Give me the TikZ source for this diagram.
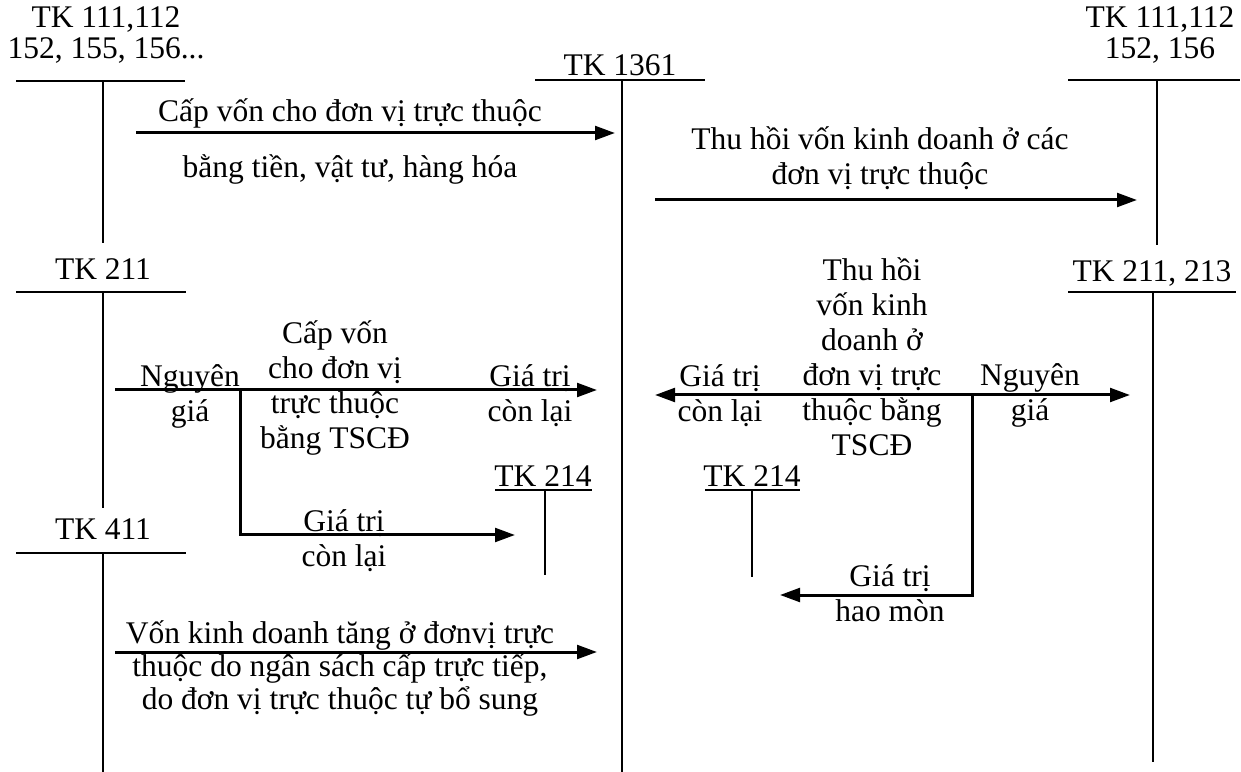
\documentclass[tikz,border=0pt]{standalone}
\usepackage{fontspec}
\setmainfont{Liberation Serif}
\usetikzlibrary{calc,arrows.meta}

\begin{document}
\begin{tikzpicture}[x=0.4pt,y=-0.4pt,inner sep=0pt,outer sep=0pt,
    every node/.style={font=\fontsize{12.6}{14}\selectfont, align=center},
    tline/.style={line width=0.8pt},
    arr/.style={line width=1.2pt,-{Triangle[length=8pt,width=5.5pt]}},
    darr/.style={line width=1.2pt,{Triangle[length=8pt,width=5.5pt]}-{Triangle[length=8pt,width=5.5pt]}}]
    \useasboundingbox (0,0) rectangle (1241,772);

    % TK 111,112 (left)
    \node[font=\fontsize{12.6}{12.6}\selectfont] (tk111l) at (106,35) {TK 111,112\\152, 155, 156...};
    \draw[tline] (16,81) -- (185,81);
    \draw[tline] (103,81) -- (103,243);

    % TK 1361
    \node (tk1361) at (620,65) {TK 1361};
    \draw[tline] (535,80) -- (705,80);
    \draw[tline] (622,80) -- (622,772);

    % TK 111,112 (right)
    \node[font=\fontsize{12.6}{12.6}\selectfont] (tk111r) at (1160,35) {TK 111,112\\152, 156};
    \draw[tline] (1068,80) -- (1240,80);
    \draw[tline] (1157,80) -- (1157,245);

    % cap von
    \coordinate (capvon_s) at (136,133);
    \coordinate (capvon_e) at (615,133);
    \draw[arr] (capvon_s) -- (capvon_e);
    \node (capvon_cap) at (350,113) {Cấp vốn cho đơn vị trực thuộc};
    \node (capvon_cap2) at (350,169) {bằng tiền, vật tư, hàng hóa};

    % thu hoi von
    \coordinate (thuhoi_s) at (655,200);
    \coordinate (thuhoi_e) at (1137,200);
    \draw[arr] (thuhoi_s) -- (thuhoi_e);
    \node (thuhoi_cap) at (880,158) {Thu hồi vốn kinh doanh ở các\\đơn vị trực thuộc};

    % TK 211
    \node (tk211) at (103,269) {TK 211};
    \draw[tline] (16,292) -- (186,292);
    \draw[tline] (103,292) -- (103,508);

    % TK 211, 213
    \node (tk211r) at (1152,273) {TK 211, 213};
    \draw[tline] (1068,292) -- (1236,292);
    \draw[tline] (1153,292) -- (1153,762);

    % cap von bang TSCD
    \coordinate (tscd_s) at (115,390);
    \coordinate (tscd_e) at (597,390);
    \coordinate (tscd_b) at (240,390);
    \coordinate (tscd_c) at (240,535);
    \coordinate (tscd_d) at (515,535);
    \draw[arr] (tscd_s) -- (tscd_e);
    \draw[arr] (tscd_b) -- (tscd_c) -- (tscd_d);
    \node (tscd_ng) at (190,396) {Nguyên\\giá};
    \node (tscd_cap) at (335,388) {Cấp vốn\\cho đơn vị\\trực thuộc\\bằng TSCĐ};
    \node (tscd_gt) at (530,396) {Giá trị\\còn lại};
    \node (tscd_gt2) at (344,541) {Giá trị\\còn lại};

    % thu hoi bang TSCD
    \coordinate (thtscd_s) at (655,395);
    \coordinate (thtscd_e) at (1130,395);
    \coordinate (thtscd_b) at (972,395);
    \coordinate (thtscd_c) at (972,595);
    \coordinate (thtscd_d) at (780,595);
    \draw[darr] (thtscd_s) -- (thtscd_e);
    \draw[arr] (thtscd_b) -- (thtscd_c) -- (thtscd_d);
    \node (thtscd_cap) at (872,357) {Thu hồi\\vốn kinh\\doanh ở\\đơn vị trực\\thuộc bằng\\TSCĐ};
    \node (thtscd_gt) at (720,396) {Giá trị\\còn lại};
    \node (thtscd_ng) at (1030,395) {Nguyên\\giá};
    \node (thtscd_hm) at (890,593) {Giá trị\\hao mòn};

    % TK 214 (left / right)
    \node (tk214l) at (543,476) {TK 214};
    \draw[tline] (495,490) -- (592,490);
    \draw[tline] (545,490) -- (545,575);
    \node (tk214r) at (752,476) {TK 214};
    \draw[tline] (705,490) -- (800,490);
    \draw[tline] (752,490) -- (752,577);

    % TK 411
    \node (tk411) at (103,529) {TK 411};
    \draw[tline] (16,553) -- (186,553);
    \draw[tline] (103,553) -- (103,772);

    % von kinh doanh tang
    \coordinate (vkd_s) at (115,652);
    \coordinate (vkd_e) at (597,652);
    \draw[arr] (vkd_s) -- (vkd_e);
    \node[font=\fontsize{12.6}{13.2}\selectfont] (vkd_cap) at (340,668)
    {Vốn kinh doanh tăng ở đơnvị trực\\thuộc do ngân sách cấp trực tiếp,\\do đơn vị trực thuộc tự bổ sung};

\end{tikzpicture}
\end{document}
